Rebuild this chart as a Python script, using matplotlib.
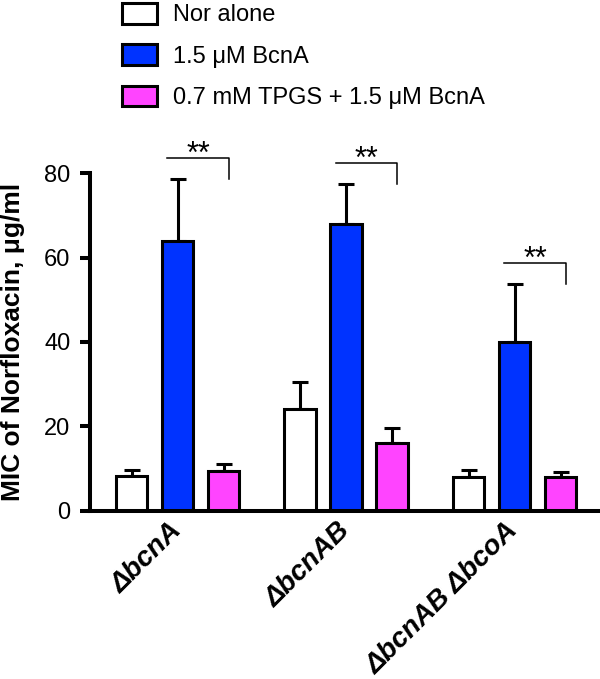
import numpy as np
import matplotlib.pyplot as plt
from matplotlib.patches import Patch
from matplotlib.transforms import ScaledTranslation

plt.rcParams['font.family'] = ['Liberation Sans', 'DejaVu Sans']

strains = ['ΔbcnA', 'ΔbcnAB', 'ΔbcnAB ΔbcoA']
conditions = ['Nor alone', '1.5 μM BcnA', '0.7 mM TPGS + 1.5 μM BcnA']
nor_alone = [8.3, 24, 8]
nor_alone_err = [1.3, 6.4, 1.7]
bcna = [64, 68, 40]
bcna_err = [14.6, 9.4, 13.7]
tpgs_bcna = [9.4, 16, 8]
tpgs_bcna_err = [1.6, 3.5, 1.2]
sig_labels = ['**', '**', '**']

colors = ['white', '#0033ff', '#ff44ff']
means = [nor_alone, bcna, tpgs_bcna]
errs = [nor_alone_err, bcna_err, tpgs_bcna_err]

fig = plt.figure(figsize=(6, 6.79), dpi=100)
ax = fig.add_axes([0.15, 0.248, 0.848, 0.497])

x = np.arange(len(strains))
step, width = 0.273, 0.187
for i, (m, e, c) in enumerate(zip(means, errs, colors)):
    pos = x + (i - 1) * step
    ax.errorbar(pos, m, yerr=[np.zeros(len(m)), e], fmt='none', ecolor='black',
                elinewidth=2.2, capsize=5.5, capthick=2.2, zorder=1)
    ax.bar(pos, m, width, color=c, edgecolor='black', linewidth=2.2, zorder=2)

# significance brackets between BcnA and TPGS + BcnA
for xi, top, err, lab in zip(x, bcna, bcna_err, sig_labels):
    y = top + err + 5
    x0, x1 = xi - 0.06, xi + step + 0.03
    ax.plot([x0, x1, x1], [y, y, y - 5], color='black', lw=1.1, clip_on=False)
    ax.text((x0 + x1) / 2, y - 1.2, lab, ha='center', va='baseline', fontsize=22)

ax.set_xlim(-0.52, 2.5)
ax.set_ylim(0, 80)
ax.set_yticks([0, 20, 40, 60, 80])
ax.set_xticks(x)
ax.tick_params(axis='x', length=0, pad=5)
ax.tick_params(axis='y', length=7, width=2.9, labelsize=17, pad=7)
ax.set_xticklabels(strains, rotation=45, ha='right', rotation_mode='anchor',
                   fontweight='bold', fontstyle='italic', fontsize=20)
shift = ScaledTranslation(-0.09, 0, fig.dpi_scale_trans)
for lbl in ax.get_xticklabels():
    lbl.set_transform(lbl.get_transform() + shift)
for s in ['top', 'right']:
    ax.spines[s].set_visible(False)
for s in ['left', 'bottom']:
    ax.spines[s].set_linewidth(2.9)

ax.set_ylabel('MIC of Norfloxacin, μg/ml', fontsize=19, fontweight='bold', va='center')
ax.yaxis.set_label_coords(-0.152, 0.5)

handles = [Patch(facecolor=c, edgecolor='black', linewidth=2.2) for c in colors]
fig.legend(handles, conditions, loc='upper left', bbox_to_anchor=(122 / 600, 1 - 3 / 679),
           frameon=False, fontsize=17, handlelength=1.48, handleheight=0.97,
           handletextpad=0.68, labelspacing=0.76, borderpad=0, borderaxespad=0)

fig.savefig('out.png', dpi=100)
